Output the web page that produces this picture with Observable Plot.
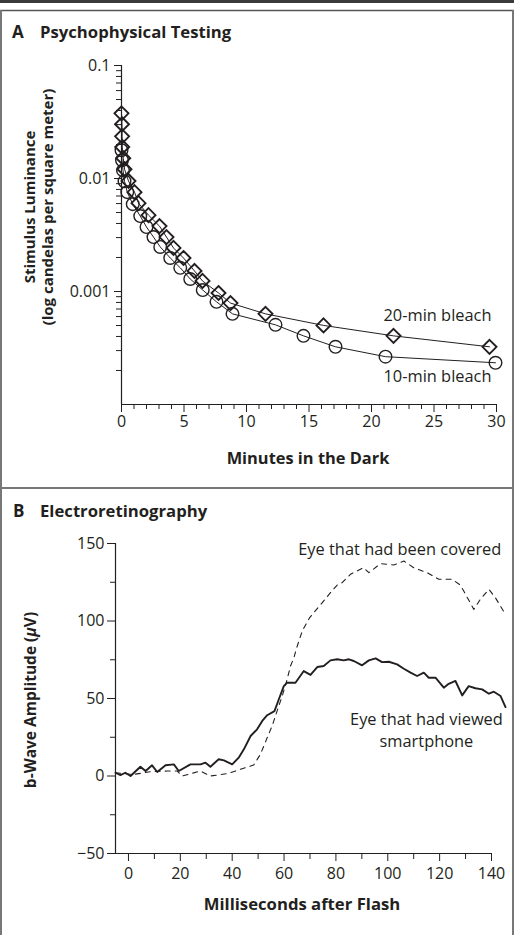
<!DOCTYPE html>
<html><head><meta charset="utf-8">
<script src="https://cdn.jsdelivr.net/npm/d3@7"></script>
<script src="https://cdn.jsdelivr.net/npm/@observablehq/plot@0.6"></script>
<style>
body{margin:0;background:#fff;}
#wrap{position:relative;width:514px;height:935px;overflow:hidden;background:#fff;}
#wrap svg{position:absolute;left:0;}
</style></head><body><div id="wrap"></div>
<script>
// ---------- Panel A data ----------
const minutes20 = [0, 0.04, 0.05, 0.06, 0.14, 0.24, 0.56, 1.04, 1.36, 2.16, 3.04, 3.6, 4.16, 4.96, 5.84, 6.48, 7.76, 8.72, 11.52, 16.16, 21.76, 29.44];
const lum20 = [0.0377, 0.0302, 0.0236, 0.019, 0.0151, 0.0121, 0.0095, 0.00757, 0.00605, 0.00474, 0.00379, 0.00303, 0.00243, 0.00198, 0.00152, 0.00124, 0.00097, 0.00079, 0.000634, 0.000501, 0.000405, 0.000324];
const minutes10 = [0, 0.04, 0.12, 0.24, 0.46, 0.9, 1.5, 2.0, 2.56, 3.1, 3.9, 4.7, 5.5, 6.5, 7.6, 8.88, 12.32, 14.56, 17.12, 21.12, 29.92];
const lum10 = [0.0178, 0.0145, 0.0118, 0.00946, 0.00757, 0.00593, 0.00465, 0.00372, 0.00303, 0.00248, 0.00198, 0.00162, 0.00129, 0.00103, 0.00081, 0.000634, 0.000507, 0.000405, 0.000324, 0.000265, 0.000234];
const xTicksA = [0, 5, 10, 15, 20, 25, 30];
const yTicksA = [0.1, 0.01, 0.001];
const yTickLabelsA = ["0.1", "0.01", "0.001"];
const label20 = {text: "20-min bleach", t: 29.6, v: 0.00061};
const label10 = {text: "10-min bleach", t: 29.6, v: 0.000176};

// ---------- Panel B data ----------
const msViewed = [-5,-3.1,-1.2,0.8,4.6,6.6,9.1,11.1,14.3,17.5,19.4,23.9,27.8,29.7,31.6,34.8,36.8,40,42.5,44.5,47.1,49.6,51.6,53.5,56.3,58,59.9,61.2,64.4,67.6,70.2,72.8,75.3,77.9,80.5,83,85,86.9,90.1,92.7,95.3,97.8,100.4,103.6,106.2,108.8,111.3,113.9,115.8,118.4,121.6,123.5,126.1,128.7,131.2,133.8,136.4,139,140.9,143.5,145.4];
const uvViewed = [2.1,0.6,2.1,0,6,3.2,6.9,2.6,6.9,7.5,3.2,7.5,7.5,8.6,6,10.8,10.1,7.5,11.8,17.2,25.8,30.1,35.5,39.2,41.9,49.5,58,60.2,60.2,67.7,65.2,70.3,71,74.6,75.3,74.6,75.3,74.2,71.4,74.6,75.9,73.5,73.7,72,69.2,66.7,64.5,66.7,63.4,63.4,57,59.5,61.3,52,58,56.6,55.9,53.1,54.4,51.6,44.5];
const msCovered = [-5,2,8.5,14.9,18.8,20.7,27.8,31.6,38.1,43.2,48.3,50.9,53.5,55.4,57.3,59.3,61.2,62.5,63.8,65.1,67,69.8,72.8,75.3,77.9,80.5,82.4,85.6,90.7,92.7,97.2,102.3,106.2,110,115.2,119.7,124.8,128,133.2,135.7,139,141.5,145.4];
const uvCovered = [2,1,2.8,3.2,3.2,0,3.2,0,1.5,4.3,7.1,14,24.7,32.3,41.9,51.6,62.4,71,76.3,83.9,93.5,102,108,113,118.3,123.2,124.7,130.1,134.4,131.2,137,136.1,138.7,134.4,131.2,126.9,126.9,123.2,107.5,114,120.4,115,104.3];
const xTicksB = [0, 20, 40, 60, 80, 100, 120, 140];
const xMinorB = [10, 30, 50, 70, 90, 110, 130];
const yTicksB = [-50, 0, 50, 100, 150];
const yMinorB = [-25, 25, 75, 125];
const labelCovered = {text: "Eye that had been covered", t: 143.8, v: 145.8};
const labelViewed = {text: "Eye that had viewed\nsmartphone", t: 114.9, v: 30.3};

const INK = "#231f20";
const FONT = "'Open Sans', sans-serif";
const TICKFS = 16;
const wrap = document.getElementById("wrap");

// minor log ticks
const yMinorA = [];
for (const p of [-4, -3, -2]) for (let m = 2; m <= 9; m++) yMinorA.push(+(m * Math.pow(10, p)).toPrecision(3));
const xMinorA = d3.range(1, 30).filter(d => d % 5 !== 0);

const d20 = minutes20.map((t, i) => ({t, v: lum20[i]}));
const d10 = minutes10.map((t, i) => ({t, v: lum10[i]}));

const plotA = Plot.plot({
  width: 514, height: 488,
  marginLeft: 121, marginRight: 18, marginTop: 65, marginBottom: 84,
  style: {fontFamily: FONT, fontSize: "16px", color: INK, background: "transparent", overflow: "visible"},
  x: {domain: [0, 30]},
  y: {type: "log", domain: [1e-4, 0.1]},
  marks: [
    Plot.axisX({ticks: xTicksA, tickSize: 8, tickPadding: 3, fontSize: TICKFS, tickFormat: d => String(d), label: null, stroke: INK}),
    Plot.axisX({ticks: xMinorA, tickSize: 5, tickFormat: () => "", label: null, stroke: INK}),
    Plot.axisY({ticks: yTicksA, tickSize: 7, tickPadding: 4, fontSize: TICKFS, tickFormat: d => yTickLabelsA[yTicksA.indexOf(d)], label: null, stroke: INK}),
    Plot.axisY({ticks: yMinorA, tickSize: 5, tickFormat: () => "", label: null, stroke: INK}),
    Plot.ruleX([0], {stroke: INK, strokeWidth: 1.2}),
    Plot.ruleY([1e-4], {stroke: INK, strokeWidth: 1.2}),
    Plot.line(d20, {x: "t", y: "v", stroke: INK, strokeWidth: 1}),
    Plot.line(d10, {x: "t", y: "v", stroke: INK, strokeWidth: 1}),
    Plot.dot(d20, {x: "t", y: "v", symbol: "diamond2", r: 6.3, stroke: INK, strokeWidth: 1.9, fill: "none"}),
    Plot.dot(d10, {x: "t", y: "v", symbol: "circle", r: 6.3, stroke: INK, strokeWidth: 1.4, fill: "none"}),
    Plot.text([label20, label10], {x: "t", y: "v", text: "text", textAnchor: "end", fill: INK, fontSize: 16.4})
  ]
});
plotA.style.top = "0px";
wrap.appendChild(plotA);

const viewed = msViewed.map((t, i) => ({t, v: uvViewed[i]}));
const covered = msCovered.map((t, i) => ({t, v: uvCovered[i]}));

const plotB = Plot.plot({
  width: 514, height: 447,
  marginLeft: 115, marginRight: 23, marginTop: 55, marginBottom: 82,
  style: {fontFamily: FONT, fontSize: "16px", color: INK, background: "transparent", overflow: "visible"},
  x: {domain: [-5, 140]},
  y: {domain: [-50, 150]},
  marks: [
    Plot.axisX({ticks: xTicksB, tickSize: 8, tickPadding: 6, fontSize: TICKFS, tickFormat: d => String(d), label: null, stroke: INK}),
    Plot.axisX({ticks: xMinorB, tickSize: 6, tickFormat: () => "", label: null, stroke: INK}),
    Plot.axisY({ticks: yTicksB, tickSize: 8, tickPadding: 3, fontSize: TICKFS, tickFormat: d => d < 0 ? "\u2212" + Math.abs(d) : String(d), label: null, stroke: INK}),
    Plot.axisY({ticks: yMinorB, tickSize: 5, tickFormat: () => "", label: null, stroke: INK}),
    Plot.ruleX([-5], {stroke: INK, strokeWidth: 1.2}),
    Plot.ruleY([-50], {stroke: INK, strokeWidth: 1.2}),
    Plot.line(covered, {x: "t", y: "v", stroke: INK, strokeWidth: 1.1, strokeDasharray: "5,5"}),
    Plot.line(viewed, {x: "t", y: "v", stroke: INK, strokeWidth: 1.9}),
    Plot.text([labelCovered], {x: "t", y: "v", text: "text", textAnchor: "end", fill: INK, fontSize: 16.4}),
    Plot.text([labelViewed], {x: "t", y: "v", text: "text", textAnchor: "middle", lineHeight: 1.3, fill: INK, fontSize: 16.4})
  ]
});
plotB.style.top = "488px";
wrap.appendChild(plotB);

// ---------- overlay: frame, titles, axis titles ----------
const ov = d3.select(wrap).append("svg").attr("width", 514).attr("height", 935)
  .style("top", "0px").style("pointer-events", "none")
  .style("font-family", FONT).style("fill", INK);
ov.append("rect").attr("x", 0).attr("y", 0).attr("width", 514).attr("height", 3).attr("fill", "#3a3a3a");
ov.append("line").attr("x1", 0).attr("x2", 514).attr("y1", 10.5).attr("y2", 10.5).attr("stroke", "#555").attr("stroke-width", 1.5);
ov.append("line").attr("x1", 1).attr("x2", 1).attr("y1", 10).attr("y2", 935).attr("stroke", "#777").attr("stroke-width", 2);
ov.append("line").attr("x1", 513).attr("x2", 513).attr("y1", 10).attr("y2", 935).attr("stroke", "#777").attr("stroke-width", 2);
ov.append("line").attr("x1", 0).attr("x2", 514).attr("y1", 488).attr("y2", 488).attr("stroke", "#777").attr("stroke-width", 2);

const t = (x, y, s, o = {}) => ov.append("text").attr("x", x).attr("y", y).attr("font-size", o.size || 16.5)
  .attr("font-weight", o.weight || 700).attr("text-anchor", o.anchor || "start").attr("fill", INK)
  .attr("transform", o.rot ? `rotate(-90 ${x} ${y})` : null).text(s);
t(12, 38, "A", {size: 17});
t(40, 38, "Psychophysical Testing", {size: 16.7});
t(13, 517, "B", {size: 17});
t(40, 517, "Electroretinography", {size: 16.7});
t(308, 464, "Minutes in the Dark", {anchor: "middle", size: 16.4});
t(302, 910, "Milliseconds after Flash", {anchor: "middle", size: 16.7});
t(35, 207, "Stimulus Luminance", {anchor: "middle", rot: true, size: 15});
t(53, 207, "(log candelas per square meter)", {anchor: "middle", rot: true, size: 15});
const yl = t(36, 700, "b-Wave Amplitude (", {anchor: "middle", rot: true, size: 15.5});
yl.append("tspan").attr("font-style", "italic").text("\u03bc");
yl.append("tspan").text("V)");
</script>
</body></html>
